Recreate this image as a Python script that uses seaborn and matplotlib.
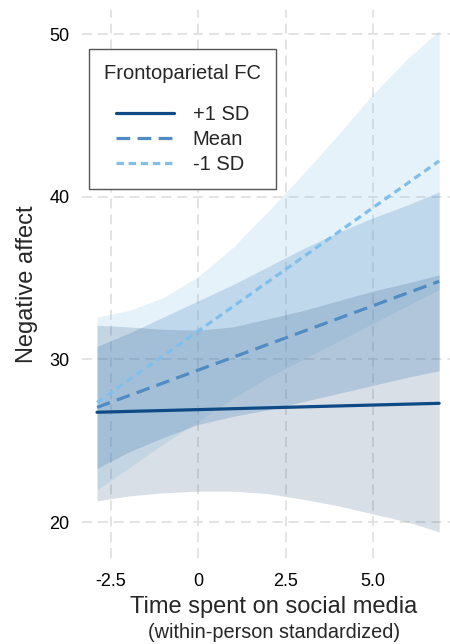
import numpy as np
import pandas as pd
import matplotlib
matplotlib.use('Agg')
import matplotlib.pyplot as plt
import seaborn as sns

# predicted lines (start / end of observed range)
line_x = [-2.9, 6.9]
plus_sd = [26.75, 27.3]
mean_fc = [27.05, 34.8]
minus_sd = [27.35, 42.2]

# confidence bands, read at a few x positions
band_x = [-2.9, -2, -1, 0, 1, 2, 3, 4, 5, 6, 6.9]
plus_lo = [21.3, 21.6, 21.8, 21.9, 21.9, 21.75, 21.4, 21.0, 20.5, 20.0, 19.4]
plus_hi = [32.1, 32.0, 31.85, 31.8, 32.0, 32.5, 33.0, 33.6, 34.2, 34.7, 35.2]
mean_lo = [23.3, 24.3, 25.2, 26.0, 26.5, 26.9, 27.4, 27.9, 28.4, 28.9, 29.3]
mean_hi = [30.8, 31.6, 32.6, 33.6, 34.6, 35.7, 36.8, 37.8, 38.7, 39.5, 40.3]
minus_lo = [22.0, 23.3, 24.8, 26.2, 27.6, 28.9, 30.0, 31.1, 32.2, 33.3, 34.3]
minus_hi = [32.6, 33.0, 33.8, 35.1, 36.9, 39.1, 41.4, 43.8, 46.3, 48.5, 50.2]

x_ticks = [-2.5, 0, 2.5, 5.0]
x_ticklabels = ['-2.5', '0', '2.5', '5.0']
y_ticks = [20, 30, 40, 50]

groups = ['+1 SD', 'Mean', '-1 SD']
line_colors = {'+1 SD': '#0d4a86', 'Mean': '#4f8bc4', '-1 SD': '#80bfeb'}
fill_colors = {'+1 SD': '#0e3d6e', 'Mean': '#4f8bc4', '-1 SD': '#85c1ea'}
fill_alpha = {'+1 SD': 0.16, 'Mean': 0.25, '-1 SD': 0.2}
styles = {'+1 SD': '-', 'Mean': (0, (4.3, 2.3)), '-1 SD': (0, (2.3, 1.5))}

lines = pd.DataFrame({
    'x': line_x * 3,
    'y': plus_sd + mean_fc + minus_sd,
    'group': [g for g in groups for _ in line_x],
})
bands = {
    '+1 SD': (plus_lo, plus_hi),
    'Mean': (mean_lo, mean_hi),
    '-1 SD': (minus_lo, minus_hi),
}

sns.set_theme(style='whitegrid')
plt.rcParams['font.family'] = ['Liberation Sans', 'DejaVu Sans']

fig = plt.figure(figsize=(4.5, 6.44), dpi=100)
ax = fig.add_axes([82 / 450, 1 - 558 / 644, 1 - 82 / 450, 548 / 644])

# bands
for g in ['-1 SD', 'Mean', '+1 SD']:
    lo, hi = bands[g]
    ax.fill_between(band_x, lo, hi, color=fill_colors[g], alpha=fill_alpha[g],
                    linewidth=0)

# lines
for g in groups:
    d = lines[lines['group'] == g]
    sns.lineplot(x='x', y='y', data=d, ax=ax, color=line_colors[g],
                 linewidth=2.3, linestyle=styles[g], label=g)

ax.set_xlim(-3.33, 7.21)
ax.set_ylim(17.79, 51.48)
ax.set_xticks(x_ticks)
ax.set_xticklabels(x_ticklabels)
ax.set_yticks(y_ticks)
ax.grid(True, color='#e0e0e0', linestyle=(0, (5.5, 3.3)), linewidth=1.3)
for s in ax.spines.values():
    s.set_visible(False)
ax.tick_params(axis='both', length=0, labelsize=13, colors='black')
ax.tick_params(axis='y', pad=9)
ax.tick_params(axis='x', pad=11)
ax.set_xlabel('')
ax.set_ylabel('Negative affect', fontsize=17, labelpad=8)

fig.text(274 / 450, 1 - 607 / 644, 'Time spent on social media', fontsize=17,
         ha='center', va='center')
fig.text(274 / 450, 1 - 633 / 644, '(within-person standardized)', fontsize=14.3,
         ha='center', va='center')

leg = ax.legend(title='Frontoparietal FC', loc='upper left',
                bbox_to_anchor=(0.019, 0.929), borderaxespad=0,
                fontsize=14.5, title_fontsize=14.5, frameon=True, fancybox=False,
                handlelength=2.85, handletextpad=0.95, labelspacing=0.3,
                borderpad=0.75, facecolor='white', edgecolor='#555555',
                framealpha=1)
leg.get_frame().set_linewidth(1.0)
leg._legend_box.sep = 16

fig.savefig('out.png', dpi=100)
